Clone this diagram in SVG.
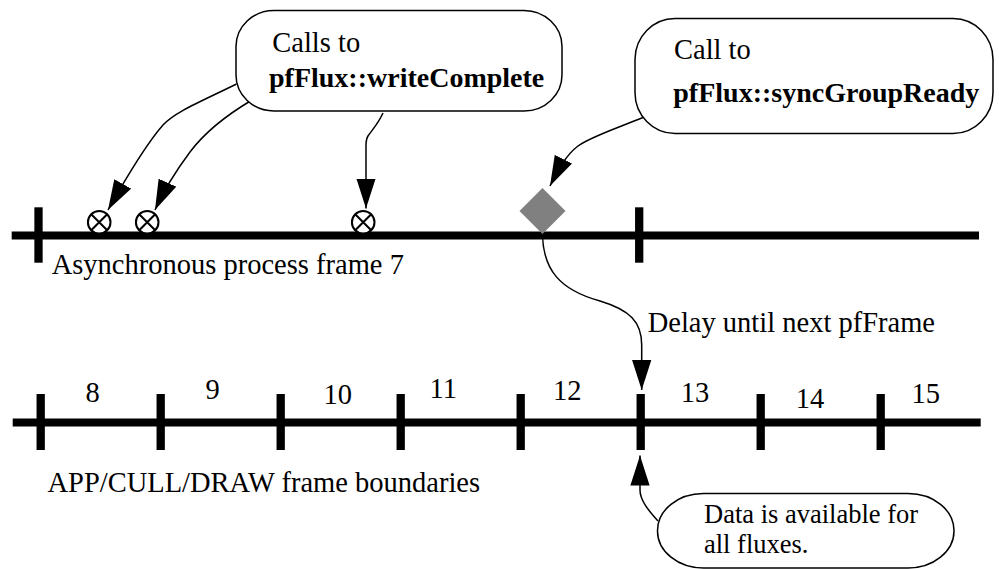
<svg xmlns="http://www.w3.org/2000/svg" width="999" height="569" viewBox="0 0 999 569">
<style>
  text { font-family: "Liberation Serif", "Times New Roman", serif; font-size: 28.5px; fill: #000; }
  .b { font-weight: bold; font-size: 28px; }
  .s { font-size: 26.5px; }
  .axis { stroke: #000; stroke-width: 8; fill: none; }
  .tick { stroke: #000; stroke-width: 8.3; fill: none; }
  .callout { fill: #fff; stroke: #000; stroke-width: 1.5; }
  .conn { fill: none; stroke: #000; stroke-width: 1.5; marker-end: url(#ah); }
  .flux { fill: #fff; stroke: #000; stroke-width: 2; }
</style>
<defs>
  <marker id="ah" markerUnits="userSpaceOnUse" markerWidth="30" markerHeight="20" viewBox="0 0 28 18" refX="28" refY="9" orient="auto">
    <path d="M0,0 L28,9 L0,18 z" fill="#000"/>
  </marker>
  <g id="fluxmark">
    <circle cx="0" cy="0" r="11.3" class="flux"/>
    <path d="M-8,-8 L8,8 M-8,8 L8,-8" stroke="#000" stroke-width="2"/>
  </g>
</defs>
<rect width="999" height="569" fill="#fff"/>

<g id="async-timeline">
  <line class="axis" x1="11.7" y1="235.5" x2="979" y2="235.5"/>
  <line class="tick" x1="38.5" y1="207.3" x2="38.5" y2="262.7"/>
  <line class="tick" x1="639.2" y1="207.3" x2="639.2" y2="262.7"/>
  <text x="51.7" y="274.3">Asynchronous process frame 7</text>
</g>

<g id="frame-timeline">
  <line class="axis" x1="12.7" y1="422.5" x2="980.7" y2="422.5"/>
  <line class="tick" x1="40.7" y1="394" x2="40.7" y2="450"/>
  <line class="tick" x1="160.7" y1="394" x2="160.7" y2="450"/>
  <line class="tick" x1="280.7" y1="394" x2="280.7" y2="450"/>
  <line class="tick" x1="400.7" y1="394" x2="400.7" y2="450"/>
  <line class="tick" x1="520.7" y1="394" x2="520.7" y2="450"/>
  <line class="tick" x1="640.7" y1="394" x2="640.7" y2="450"/>
  <line class="tick" x1="760.7" y1="394" x2="760.7" y2="450"/>
  <line class="tick" x1="880.7" y1="394" x2="880.7" y2="450"/>
  <g text-anchor="middle">
    <text x="92.7" y="402.3">8</text>
    <text x="212.7" y="399">9</text>
    <text x="337.7" y="404.3">10</text>
    <text x="443.3" y="398.3">11</text>
    <text x="567.3" y="400">12</text>
    <text x="695" y="402.3">13</text>
    <text x="810" y="407.7">14</text>
    <text x="925.7" y="403.3">15</text>
  </g>
  <text x="47.5" y="491.7">APP/CULL/DRAW frame boundaries</text>
</g>

<g id="flux1"><use href="#fluxmark" x="99.2" y="222.2"/></g>
<g id="flux2"><use href="#fluxmark" x="147.2" y="222.2"/></g>
<g id="flux3"><use href="#fluxmark" x="363.2" y="222.2"/></g>

<g id="sync-diamond">
  <polygon points="542.5,188 565.5,211 542.5,234 519.5,211" fill="#808080"/>
</g>

<g id="connectors">
  <path class="conn" d="M236.5,84 C200,102 175,112 163,125 C148,142 126,178 108,210"/>
  <path class="conn" d="M252,100 C225,116 205,132 190,152 C178,168 165,188 155,210"/>
  <path class="conn" d="M383,113 C378,124 372,130 368,136 C366,139 366,142 366,146 L366,208.5"/>
  <path class="conn" d="M644,117 C615,129 590,137 578,146 C566,155 558,170 550,186"/>
  <path class="conn" d="M542.5,234 C543,270 560,290 600,301 C630,310 641.7,322 641.7,345 L641.7,390"/>
  <path class="conn" d="M658,521 C648,510 640,500 640,490 L640,455.5"/>
  <text x="647.7" y="331.7">Delay until next pfFrame</text>
</g>

<g id="callout-writeComplete">
  <rect class="callout" x="236" y="10.5" width="326" height="100.5" rx="38" ry="36"/>
  <text x="272.3" y="52.3">Calls to</text>
  <text class="b" x="269" y="87.3">pfFlux::writeComplete</text>
</g>

<g id="callout-syncGroupReady">
  <rect class="callout" x="635" y="18.5" width="358" height="115" rx="40" ry="41"/>
  <text x="674" y="59.3">Call to</text>
  <text class="b" x="673.3" y="101.7">pfFlux::syncGroupReady</text>
</g>

<g id="callout-data-available">
  <rect class="callout" x="657.5" y="493.5" width="296.5" height="74.5" rx="46" ry="37"/>
  <text class="s" x="704" y="522.5">Data is available for</text>
  <text class="s" x="704" y="552.5">all fluxes.</text>
</g>
</svg>
